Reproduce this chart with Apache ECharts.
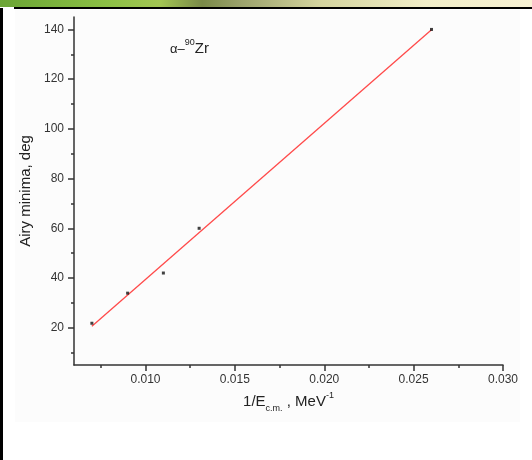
<!DOCTYPE html>
<html>
<head>
<meta charset="utf-8">
<script src="https://cdn.jsdelivr.net/npm/echarts@6/dist/echarts.min.js"></script>
<style>
html, body { margin: 0; padding: 0; background: #fff; }
#airyChart { width: 532px; height: 460px; }
</style>
</head>
<body>
<div id="airyChart"></div>
<script>
// 1/E c.m. (MeV^-1) vs Airy minimum angle (deg), alpha + 90Zr
var invEnergy = [0.007, 0.009, 0.011, 0.013, 0.026];
var airyAngle = [21.8, 33.9, 42.0, 60.0, 140.0];
// end points of the linear fit
var fitX = [0.007, 0.026];
var fitY = [20.6, 139.9];
// tick positions
var xMajor = [0.010, 0.015, 0.020, 0.025, 0.030];
var xMinor = [0.0075, 0.0125, 0.0175, 0.0225, 0.0275];
var yMajor = [20, 40, 60, 80, 100, 120, 140];
var yMinor = [10, 30, 50, 70, 90, 110, 130];

var font = '"Liberation Sans", Arial, sans-serif';
var chart = echarts.init(document.getElementById('airyChart'));

var points = invEnergy.map(function (x, i) { return [x, airyAngle[i]]; });
var fitLine = fitX.map(function (x, i) { return [x, fitY[i]]; });

function axisBase (min, max, pos) {
    return {
        type: 'value',
        position: pos,
        min: min,
        max: max,
        splitLine: { show: false },
        axisLine: { show: false, onZero: false },
        axisTick: { show: false },
        axisLabel: { show: false }
    };
}

// hidden axes that only draw the short minor ticks
var xMinorAxis = axisBase(0.006, 0.030, 'bottom');
xMinorAxis.axisTick = { show: true, inside: false, length: 3, customValues: xMinor, lineStyle: { color: '#333', width: 1.5 } };
var yMinorAxis = axisBase(5, 145, 'left');
yMinorAxis.axisTick = { show: true, inside: false, length: 3, customValues: yMinor, lineStyle: { color: '#333', width: 1.5 } };

var option = {
    backgroundColor: '#fff',
    animation: false,
    textStyle: { fontFamily: font },
    grid: { left: 74, right: 29, top: 17, bottom: 95 },
    graphic: [
        {
            type: 'rect', z: -10, silent: true,
            shape: { x: 0, y: 0, width: 532, height: 7 },
            style: {
                fill: new echarts.graphic.LinearGradient(0, 0, 1, 0, [
                    { offset: 0, color: '#6ba535' },
                    { offset: 0.2, color: '#8cc045' },
                    { offset: 0.3, color: '#a3c653' },
                    { offset: 0.38, color: '#7a8a48' },
                    { offset: 0.45, color: '#9aa16a' },
                    { offset: 0.6, color: '#d4d49e' },
                    { offset: 0.8, color: '#f2eec8' },
                    { offset: 1, color: '#f8f2d4' }
                ])
            }
        },
        { type: 'rect', z: -10, silent: true, shape: { x: 14, y: 7, width: 518, height: 2 }, style: { fill: '#000' } },
        { type: 'rect', z: -10, silent: true, shape: { x: 0, y: 8, width: 3, height: 452 }, style: { fill: '#000' } },
        { type: 'rect', z: -20, silent: true, shape: { x: 15, y: 10, width: 505, height: 412 }, style: { fill: '#fcfcfc' } },
        {
            type: 'text', left: 170, top: 38, z: 10,
            style: {
                text: '{a|α–}{s|90}{b|Zr}',
                rich: {
                    a: { fontSize: 13, fontFamily: font, fill: '#222', lineHeight: 18, verticalAlign: 'bottom' },
                    s: { fontSize: 9, fontFamily: font, fill: '#222', lineHeight: 11, verticalAlign: 'top' },
                    b: { fontSize: 15, fontFamily: font, fill: '#222', lineHeight: 18, verticalAlign: 'bottom' }
                }
            }
        }
    ],
    xAxis: [{
        type: 'value',
        position: 'bottom',
        min: 0.006,
        max: 0.030,
        name: '{m|1/E}{sub|c.m.}{m| , MeV}{sup|-1}',
        nameLocation: 'middle',
        nameGap: 26,
        nameTextStyle: {
            rich: {
                m: { fontSize: 15, color: '#222', fontFamily: font, lineHeight: 22, verticalAlign: 'middle' },
                sub: { fontSize: 9, color: '#222', fontFamily: font, lineHeight: 9, verticalAlign: 'bottom' },
                sup: { fontSize: 9, color: '#222', fontFamily: font, lineHeight: 9, verticalAlign: 'top' }
            }
        },
        splitLine: { show: false },
        axisLine: { show: true, onZero: false, lineStyle: { color: '#333', width: 1.5 } },
        axisTick: { show: true, inside: false, length: 6, customValues: xMajor, lineStyle: { color: '#333', width: 1.5 } },
        axisLabel: {
            customValues: xMajor,
            margin: 9,
            fontSize: 12,
            color: '#333',
            formatter: function (v) { return v.toFixed(3); }
        }
    }, xMinorAxis],
    yAxis: [{
        type: 'value',
        position: 'left',
        min: 5,
        max: 145,
        name: 'Airy minima, deg',
        nameLocation: 'middle',
        nameGap: 37,
        nameTextStyle: { fontSize: 15, color: '#222' },
        splitLine: { show: false },
        axisLine: { show: true, onZero: false, lineStyle: { color: '#333', width: 1.5 } },
        axisTick: { show: true, inside: false, length: 6, customValues: yMajor, lineStyle: { color: '#333', width: 1.5 } },
        axisLabel: { customValues: yMajor, margin: 10, fontSize: 12, color: '#333' }
    }, yMinorAxis],
    series: [{
        name: 'fit',
        type: 'line',
        data: fitLine,
        showSymbol: false,
        lineStyle: { color: '#ff4a4a', width: 1.3 },
        z: 2
    }, {
        name: 'Airy minima',
        type: 'scatter',
        data: points,
        symbol: 'rect',
        symbolSize: 3,
        itemStyle: { color: '#111' },
        z: 3
    }]
};
chart.setOption(option);
</script>
</body>
</html>
